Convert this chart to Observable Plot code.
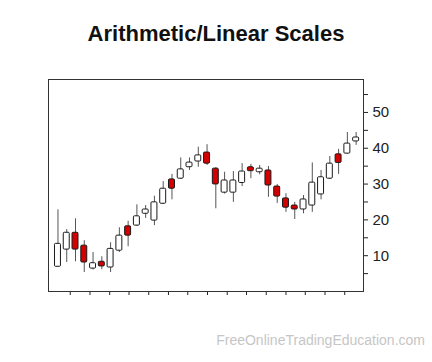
<!DOCTYPE html>
<html>
<head>
<meta charset="utf-8">
<script src="https://cdn.jsdelivr.net/npm/d3@7"></script>
<script src="https://cdn.jsdelivr.net/npm/@observablehq/plot@0.6"></script>
<style>
  html, body { margin: 0; padding: 0; background: #fff; }
  #wrap { position: relative; width: 432px; height: 362px; overflow: hidden; font-family: "Liberation Sans", Arial, sans-serif; }
  #title { position: absolute; left: 0; width: 432px; top: 21px; text-align: center; font-size: 22px; font-weight: bold; color: #111; line-height: 26px; }
  #footer { position: absolute; right: 7px; top: 332px; font-size: 14px; color: #c6c6c6; line-height: 17px; }
  #chart { position: absolute; left: 0; top: 0; }
</style>
</head>
<body>
<div id="wrap">
  <div id="chart"></div>
  <div id="title">Arithmetic/Linear Scales</div>
  <div id="footer">FreeOnlineTradingEducation.com</div>
</div>
<script>
const opens  = [6.9, 11.7, 16.4, 12.8, 6.4, 8.3, 6.7, 11.4, 18.2, 18.4, 21.7, 19.8, 24.5, 31.3, 31.5, 34.7, 36.3, 38.8, 34.3, 27.6, 27.6, 30.3, 34.7, 33.3, 33.8, 29.3, 26.0, 24.0, 22.9, 24.0, 27.1, 31.5, 38.3, 38.5, 41.9];
const highs  = [22.8, 17.3, 20.3, 14.2, 10.9, 9.7, 13.6, 17.8, 19.6, 24.2, 24.0, 26.6, 30.7, 32.7, 37.3, 37.3, 40.3, 41.0, 34.6, 33.3, 33.5, 35.7, 35.5, 35.2, 34.9, 29.9, 27.3, 24.9, 26.8, 35.9, 33.8, 37.7, 39.7, 44.4, 44.4];
const lows   = [6.9, 8.1, 8.3, 5.3, 6.0, 6.1, 5.3, 10.9, 12.5, 18.2, 20.4, 18.4, 24.3, 25.6, 31.3, 33.8, 34.7, 35.2, 23.1, 27.2, 24.9, 29.3, 31.5, 32.6, 26.3, 24.6, 22.1, 20.1, 21.7, 22.1, 25.6, 31.3, 32.7, 38.4, 40.8];
const closes = [13.3, 16.4, 11.7, 8.1, 7.9, 7.0, 11.9, 15.6, 15.6, 21.0, 22.9, 24.9, 28.7, 28.7, 34.1, 36.0, 38.0, 35.7, 29.9, 31.0, 31.0, 33.5, 33.6, 34.3, 29.6, 26.5, 23.4, 22.9, 25.7, 30.4, 31.9, 35.7, 35.9, 41.3, 43.0];
const xTicks = [1.4, 3.65, 5.9, 8.1, 10.35, 12.6, 14.8, 17.05, 19.3, 21.5, 23.75, 26.0, 28.2, 30.45, 32.7];
const yTicks = [5, 10, 15, 20, 25, 30, 35, 40, 45, 50, 55];
const yLabels = [10, 20, 30, 40, 50];

const candles = opens.map((o, i) => ({
  i, open: o, high: highs[i], low: lows[i], close: closes[i],
  lo: Math.min(o, closes[i]), hi: Math.max(o, closes[i]),
  up: closes[i] >= o
}));

const half = 0.34;

const chart = Plot.plot({
  width: 432,
  height: 362,
  marginLeft: 48,
  marginRight: 69,
  marginTop: 79,
  marginBottom: 71,
  style: { fontFamily: "Liberation Sans, Arial, sans-serif", background: "transparent" },
  x: { type: "linear", domain: [-1.08, 34.84], axis: null },
  y: { domain: [0, 59.2], axis: null },
  marks: [
    Plot.ruleX(candles, { x: "i", y1: "low", y2: "high", stroke: "#555", strokeWidth: 1 }),
    Plot.rect(candles, {
      x1: d => d.i - half, x2: d => d.i + half,
      y1: "lo", y2: "hi",
      fill: d => d.up ? "#ffffff" : "#d20000",
      stroke: "#1a1a1a", strokeWidth: 1, rx: 1
    }),
    Plot.axisX(xTicks, { anchor: "bottom", tickSize: 4, tickFormat: () => "", stroke: "#222", label: null }),
    Plot.axisY(yTicks, { anchor: "right", tickSize: 4, tickPadding: 5, stroke: "#222",
      tickFormat: d => yLabels.includes(d) ? String(d) : "", fontSize: 15, fill: "#222", label: null }),
    Plot.frame({ stroke: "#333", strokeWidth: 1 })
  ]
});
document.getElementById("chart").appendChild(chart);
</script>
</body>
</html>
